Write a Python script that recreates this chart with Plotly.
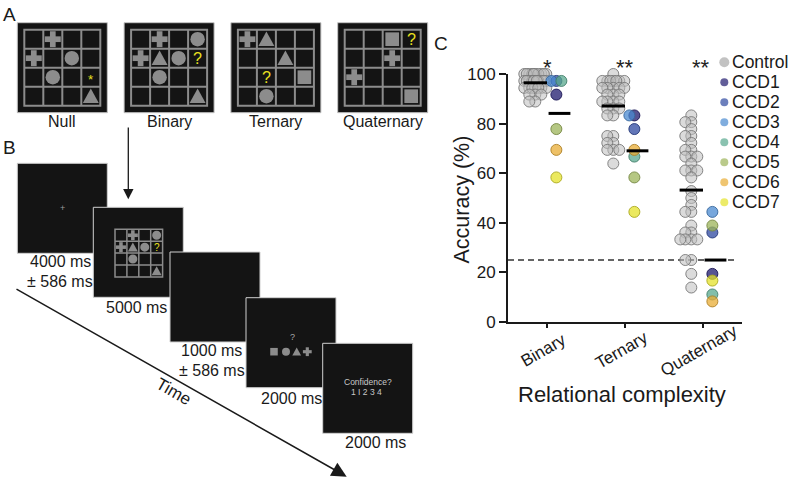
import numpy as np
import plotly.graph_objects as go

W, H = 790, 479
FONT = "Liberation Sans, Arial, Helvetica, sans-serif"

# ---------------- data (panel C) ----------------
categories = ["Binary", "Ternary", "Quaternary"]
significance = ["*", "**", "**"]

control_binary = [100, 100, 100, 100, 100, 100, 100, 100, 100, 100,
                  97.2, 97.2, 97.2, 97.2, 97.2, 97.2, 97.2, 97.2, 97.2, 97.2, 97.2,
                  94.4, 94.4, 94.4, 94.4, 94.4, 94.4, 94.4,
                  91.7, 91.7, 91.7, 88.9, 88.9]
control_ternary = [100, 97.2, 97.2, 97.2, 97.2, 97.2, 97.2, 97.2,
                   94.4, 94.4, 94.4, 94.4, 94.4, 91.7, 91.7, 91.7,
                   88.9, 88.9, 88.9, 88.9, 86.1, 86.1, 86.1, 83.3, 83.3,
                   75.0, 75.0, 72.2, 72.2, 69.4, 69.4, 69.4, 63.9]
control_quaternary = [83.3, 80.6, 80.6, 77.8, 75.0, 75.0, 72.2, 69.4, 69.4,
                      66.7, 66.7, 66.7, 63.9, 61.1, 61.1, 61.1, 58.3, 52.8,
                      50.0, 47.2, 44.4, 44.4, 38.9, 36.1, 36.1, 33.3, 33.3,
                      33.3, 33.3, 25.0, 25.0, 19.4, 13.9]
control_values = [control_binary, control_ternary, control_quaternary]

patients = ["CCD1", "CCD2", "CCD3", "CCD4", "CCD5", "CCD6", "CCD7"]
# accuracy per patient: [Binary, Ternary, Quaternary]
ccd_values = {
    "CCD1": [91.7, 83.3, 19.4],
    "CCD2": [97.2, 77.8, 36.1],
    "CCD3": [97.2, 83.3, 44.4],
    "CCD4": [97.2, 66.7, 11.1],
    "CCD5": [77.8, 58.3, 38.9],
    "CCD6": [69.4, 69.4, 8.3],
    "CCD7": [58.3, 44.4, 16.7],
}
chance_level = 25
y_ticks = [0, 20, 40, 60, 80, 100]

# ---------------- styles ----------------
control_fill = "rgba(190,190,190,0.55)"
control_edge = "rgba(120,120,120,0.9)"
ccd_colors = {
    "CCD1": (31, 26, 110), "CCD2": (46, 72, 160), "CCD3": (74, 138, 208),
    "CCD4": (88, 168, 142), "CCD5": (156, 180, 90), "CCD6": (232, 172, 52),
    "CCD7": (228, 226, 42),
}

PX_X = 78.0   # pixels per category unit
PX_Y = 2.48   # pixels per accuracy unit


def swarm(values, center, half_width, min_dist):
    """Deterministic beeswarm-like horizontal placement (pixel space)."""
    cands = sorted(np.arange(-half_width, half_width + 0.01, 0.5), key=abs)
    placed, xs = [], []
    for v in values:
        yp = v * PX_Y
        best, best_score = 0.0, -1.0
        for c in cands:
            if placed:
                m = min(np.hypot(c - px, yp - py) for px, py in placed)
            else:
                m = 1e9
            s = min(m, min_dist)
            if s > best_score + 1e-9:
                best, best_score = c, s
        placed.append((best, yp))
        xs.append(center + best / PX_X)
    return xs


fig = go.Figure()

# control points
cx_all, cy_all = [], []
for i, vals in enumerate(control_values):
    cx_all += swarm(vals, i - 0.15, 11, 6)
    cy_all += vals
fig.add_trace(go.Scatter(
    x=cx_all, y=cy_all, mode="markers", cliponaxis=False, showlegend=False,
    marker=dict(size=11, color=control_fill, line=dict(color=control_edge, width=1)),
    xaxis="x", yaxis="y"))

# CCD points
ccd_x = {p: [] for p in patients}
for i in range(len(categories)):
    vals = [ccd_values[p][i] for p in patients]
    xs = swarm(vals, i + 0.12, 7, 5)
    for p, xv in zip(patients, xs):
        ccd_x[p].append(xv)
for p in patients:
    r, g, b = ccd_colors[p]
    fig.add_trace(go.Scatter(
        x=ccd_x[p], y=ccd_values[p], mode="markers", cliponaxis=False, showlegend=False,
        marker=dict(size=11, color=f"rgba({r},{g},{b},0.75)",
                    line=dict(color=f"rgba({int(r*0.75)},{int(g*0.75)},{int(b*0.75)},0.9)", width=1)),
        xaxis="x", yaxis="y"))

# mean lines
for i in range(len(categories)):
    cm = float(np.mean(control_values[i]))
    pm = float(np.mean([ccd_values[p][i] for p in patients]))
    fig.add_trace(go.Scatter(x=[i - 0.3, i], y=[cm, cm], mode="lines", showlegend=False,
                             line=dict(color="black", width=3), cliponaxis=False))
    fig.add_trace(go.Scatter(x=[i + 0.02, i + 0.3], y=[pm, pm], mode="lines", showlegend=False,
                             line=dict(color="black", width=3), cliponaxis=False))

shapes = []
annotations = []

# chance line
shapes.append(dict(type="line", xref="x", yref="y", x0=-0.5, x1=2.44, y0=chance_level, y1=chance_level,
                   line=dict(color="#333333", width=1.3, dash="6px,4px"), layer="below"))

# significance stars (above the data area, placed in pixel space vertically)
for i, s in enumerate(significance):
    annotations.append(dict(xref="x", yref="y2", x=i, xshift=(-2 if i == 2 else 0), y=67, text=s,
                            showarrow=False, font=dict(size=22, color="#222", family=FONT),
                            xanchor="center", yanchor="middle"))

# category labels (rotated, centred under ticks)
for i, c in enumerate(categories):
    annotations.append(dict(xref="x", yref="y2", x=i, xshift=-4, y=350, text=c, textangle=-30,
                            showarrow=False, font=dict(size=17, color="#1a1a1a", family=FONT)))

# axis titles
annotations.append(dict(xref="x2", yref="y2", x=461.5, y=200, text="Accuracy (%)", textangle=-90,
                        showarrow=False, font=dict(size=21.5, color="#1a1a1a", family=FONT)))
annotations.append(dict(xref="x2", yref="y2", x=622, y=394, text="Relational complexity",
                        showarrow=False, font=dict(size=22, color="#1a1a1a", family=FONT)))

# manual legend
leg_names = ["Control"] + patients
leg_x, leg_y0, leg_dy = 724.3, 62.3, 20.0
leg_cols, leg_sizes, leg_ys = [], [], []
for k, name in enumerate(leg_names):
    yk = leg_y0 + k * leg_dy
    leg_ys.append(yk)
    if name == "Control":
        leg_cols.append("#a8a8a8"); leg_sizes.append(10)
    else:
        r, g, b = ccd_colors[name]
        leg_cols.append(f"rgb({r},{g},{b})"); leg_sizes.append(8)
    annotations.append(dict(xref="x2", yref="y2", x=729.5, y=yk, text=name, showarrow=False,
                            xanchor="left", yanchor="middle",
                            font=dict(size=17.5, color="#1a1a1a", family=FONT)))
fig.add_trace(go.Scatter(x=[leg_x] * len(leg_names), y=leg_ys, mode="markers", showlegend=False,
                         marker=dict(size=leg_sizes, color=leg_cols, line=dict(width=0)),
                         xaxis="x2", yaxis="y2", hoverinfo="skip"))

# panel letters
for letter, (lx, ly) in {"A": (9, 14), "B": (9, 147), "C": (441, 43)}.items():
    annotations.append(dict(xref="x2", yref="y2", x=lx, y=ly, text=letter, showarrow=False,
                            font=dict(size=19, color="#1a1a1a", family=FONT)))

# ---------------- illustrations (panels A and B) ----------------
GRAY = "#8c8c8c"
YEL = "#e8e020"


def rect(x0, y0, x1, y1, fill=None, line=None, lw=0):
    shapes.append(dict(type="rect", xref="x2", yref="y2", x0=x0, y0=y0, x1=x1, y1=y1,
                       fillcolor=fill if fill else "rgba(0,0,0,0)",
                       line=dict(color=line if line else "rgba(0,0,0,0)", width=lw), layer="above"))


def seg(x0, y0, x1, y1, color, lw):
    shapes.append(dict(type="line", xref="x2", yref="y2", x0=x0, y0=y0, x1=x1, y1=y1,
                       line=dict(color=color, width=lw), layer="above"))


def glyph(kind, cx, cy, c, color=GRAY):
    if kind == "circle":
        r = 0.38 * c
        shapes.append(dict(type="circle", xref="x2", yref="y2", x0=cx - r, x1=cx + r, y0=cy - r, y1=cy + r,
                           fillcolor=color, line=dict(width=0), layer="above"))
    elif kind == "cross":
        a, w = 0.42 * c, 0.15 * c
        rect(cx - a, cy - w, cx + a, cy + w, fill=color)
        rect(cx - w, cy - a, cx + w, cy + a, fill=color)
    elif kind == "tri":
        path = (f"M {cx},{cy - 0.4 * c} L {cx + 0.42 * c},{cy + 0.36 * c} "
                f"L {cx - 0.42 * c},{cy + 0.36 * c} Z")
        shapes.append(dict(type="path", xref="x2", yref="y2", path=path, fillcolor=color,
                           line=dict(width=0), layer="above"))
    elif kind == "square":
        h = 0.36 * c
        rect(cx - h, cy - h, cx + h, cy + h, fill=color)
    elif kind == "q":
        annotations.append(dict(xref="x2", yref="y2", x=cx, y=cy, text="?", showarrow=False,
                                font=dict(size=0.85 * c, color=YEL, family=FONT)))
    elif kind == "star":
        annotations.append(dict(xref="x2", yref="y2", x=cx, y=cy + 0.1 * c, text="*", showarrow=False,
                                font=dict(size=0.7 * c, color=YEL, family=FONT)))


def grid(x0, y0, size, items, lw):
    c = size / 4.0
    rect(x0, y0, x0 + size, y0 + size, line=GRAY, lw=lw)
    for k in range(1, 4):
        seg(x0 + k * c, y0, x0 + k * c, y0 + size, GRAY, lw)
        seg(x0, y0 + k * c, x0 + size, y0 + k * c, GRAY, lw)
    for (row, col, kind) in items:
        glyph(kind, x0 + (col + 0.5) * c, y0 + (row + 0.5) * c, c)


puzzles = {
    "Null": [(0, 1, "cross"), (1, 0, "cross"), (1, 2, "circle"), (2, 1, "circle"),
             (2, 3, "star"), (3, 3, "tri")],
    "Binary": [(0, 1, "cross"), (0, 3, "circle"), (1, 0, "cross"), (1, 1, "tri"), (1, 2, "circle"),
               (1, 3, "q"), (2, 1, "circle"), (3, 3, "tri")],
    "Ternary": [(0, 0, "cross"), (0, 1, "tri"), (1, 2, "tri"), (2, 1, "q"), (2, 3, "square"),
                (3, 1, "circle")],
    "Quaternary": [(0, 2, "square"), (0, 3, "q"), (1, 2, "cross"), (2, 0, "cross"), (3, 3, "square")],
}

# Panel A
for k, (name, items) in enumerate(puzzles.items()):
    gx, gy = 17.3 + k * 106.8, 22.7
    rect(gx, gy, gx + 90, gy + 90, fill="#141414", line="#c4c4c4", lw=1)
    grid(gx + 7, gy + 7, 76, items, 2)
    annotations.append(dict(xref="x2", yref="y2", x=gx + 45, y=121, text=name, showarrow=False,
                            font=dict(size=16, color="#1a1a1a", family=FONT)))

# Panel B frames
frames = [(17.3, 163.3), (93.3, 207.3), (170, 252), (246, 297.7), (322.7, 343.3)]
for (fx, fy) in frames:
    rect(fx, fy, fx + 90, fy + 90, fill="#141414", line="#d0d0d0", lw=1)
    if (fx, fy) == frames[1]:
        grid(115, 229.3, 47.6, puzzles["Binary"], 1.5)
    if (fx, fy) == frames[3]:
        for kind, gxp in zip(["square", "circle", "tri", "cross"], [274, 286, 296.7, 307.3]):
            glyph(kind, gxp, 351.7, 10.5)

annotations += [
    dict(x=62.3, y=208, text="+", font=dict(size=9, color="#9a9a9a", family=FONT)),
    dict(x=292, y=337, text="?", font=dict(size=9, color="#a8a8a8", family=FONT)),
    dict(x=367.7, y=381.7, text="Confidence?", font=dict(size=8.5, color="#c8c8c8", family=FONT)),
    dict(x=366.7, y=392.3, text="1 I 2 3 4", font=dict(size=8.5, color="#c8c8c8", family=FONT)),
]
for a in annotations[-4:]:
    a.update(xref="x2", yref="y2", showarrow=False)

timing = [("4000 ms", 60, 261.7), ("± 586 ms", 60, 281), ("5000 ms", 136.7, 307.3),
          ("1000 ms", 211.7, 350), ("± 586 ms", 211.7, 370), ("2000 ms", 291.7, 398.3),
          ("2000 ms", 375, 442.7)]
for t, tx, ty in timing:
    annotations.append(dict(xref="x2", yref="y2", x=tx, y=ty, text=t, showarrow=False,
                            font=dict(size=16, color="#1a1a1a", family=FONT)))

# arrows
annotations.append(dict(xref="x2", yref="y2", axref="x2", ayref="y2", x=128.3, y=199.3, ax=128.3, ay=126,
                        text="", showarrow=True, arrowhead=2, arrowsize=1.6, arrowwidth=1.3,
                        arrowcolor="#1a1a1a"))
annotations.append(dict(xref="x2", yref="y2", axref="x2", ayref="y2", x=346.7, y=476.7, ax=15, ay=288.3,
                        text="", showarrow=True, arrowhead=2, arrowsize=2, arrowwidth=1.5,
                        arrowcolor="#1a1a1a"))
annotations.append(dict(xref="x2", yref="y2", x=173.3, y=391.7, text="Time", textangle=29.6,
                        showarrow=False, font=dict(size=17, color="#1a1a1a", family=FONT)))

# ---------------- layout ----------------
x_dom = [508 / W, 742 / W]
y_dom = [(H - 322) / H, (H - 74) / H]

fig.update_layout(
    template="none",
    width=W, height=H, margin=dict(l=0, r=0, t=0, b=0, pad=0, autoexpand=False),
    paper_bgcolor="white", plot_bgcolor="rgba(0,0,0,0)",
    font=dict(family=FONT, color="#1a1a1a"),
    showlegend=False,
    xaxis=dict(domain=x_dom, range=[-0.5, 2.5], tickvals=[0, 1, 2], ticktext=["", "", ""],
               showline=True, linecolor="#1a1a1a", linewidth=2, ticks="outside", ticklen=4,
               tickwidth=2, tickcolor="#1a1a1a", showgrid=False, zeroline=False, fixedrange=True,
               anchor="y", automargin=False),
    yaxis=dict(domain=y_dom, range=[0, 100], tickvals=y_ticks,
               tickfont=dict(size=17, family=FONT, color="#1a1a1a"),
               showline=True, linecolor="#1a1a1a", linewidth=2, ticks="outside", ticklen=7,
               tickwidth=2, tickcolor="#1a1a1a", showgrid=False, zeroline=False, fixedrange=True,
               anchor="x", automargin=False),
    xaxis2=dict(domain=[0, 1], range=[0, W], visible=False, fixedrange=True, anchor="y2",
                automargin=False),
    yaxis2=dict(domain=[0, 1], range=[H, 0], visible=False, fixedrange=True, anchor="x2",
                automargin=False),
    shapes=shapes, annotations=annotations,
)

fig.write_html("out.html", config={"displayModeBar": False},
               post_script="document.body.style.margin='0';document.body.style.overflow='hidden';")
